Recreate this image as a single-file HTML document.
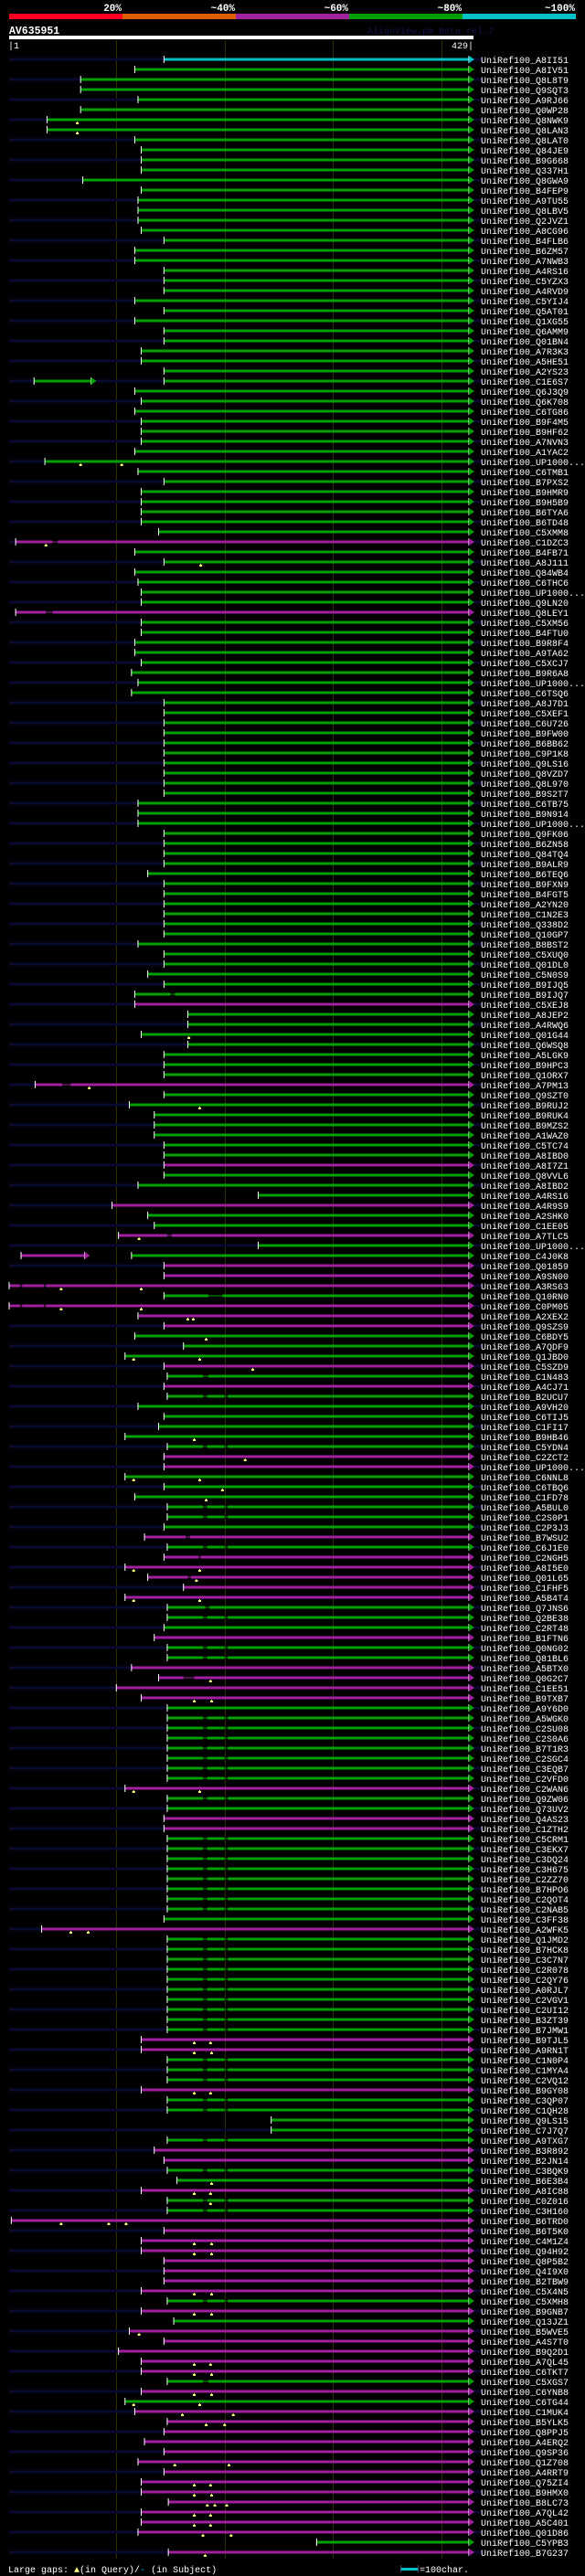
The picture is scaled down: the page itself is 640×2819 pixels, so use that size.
<!DOCTYPE html>
<html><head><meta charset="utf-8"><title>AV635951 alignment view</title>
<style>
html,body{margin:0;padding:0;background:#000;}
svg{display:block;}
text{font-family:"Liberation Mono",monospace;}
</style></head>
<body>
<svg id="chart" width="640" height="2819" viewBox="0 0 640 2819" xmlns="http://www.w3.org/2000/svg">
<rect x="0" y="0" width="640" height="2819" fill="#000"/>
<g>
<rect x="10" y="15" width="124" height="6" fill="#ff0022"/>
<rect x="134" y="15" width="124" height="6" fill="#e06000"/>
<rect x="258" y="15" width="124" height="6" fill="#a020a0"/>
<rect x="382" y="15" width="124" height="6" fill="#00a000"/>
<rect x="506" y="15" width="124" height="6" fill="#00c0c8"/>
<text x="133" y="12" fill="#fff" font-size="11" font-weight="bold" text-anchor="end">20%</text>
<text x="257" y="12" fill="#fff" font-size="11" font-weight="bold" text-anchor="end">~40%</text>
<text x="381" y="12" fill="#fff" font-size="11" font-weight="bold" text-anchor="end">~60%</text>
<text x="505" y="12" fill="#fff" font-size="11" font-weight="bold" text-anchor="end">~80%</text>
<text x="629" y="12" fill="#fff" font-size="11" font-weight="bold" text-anchor="end">~100%</text>
</g>
<text x="10" y="37" fill="#fff" font-size="11.5" font-weight="bold">AV635951</text>
<text x="402" y="37" fill="#14144a" font-size="10">AlignView.pm Beta rel.7</text>
<rect x="10" y="39" width="508" height="4" fill="#fff"/>
<text x="9" y="53" fill="#fff" font-size="10">|1</text>
<text x="518" y="53" fill="#fff" font-size="10" text-anchor="end">429|</text>
<g id="grid"></g>
<g id="rows"></g>
<text x="9" y="2815" fill="#fff" font-size="10">Large gaps: <tspan fill="#ffff80">▲</tspan>(in Query)/<tspan fill="#00c0c8">-</tspan> (in Subject)</text>
<rect x="439" y="2810" width="18" height="3" fill="#00c0c8"/>
<rect x="438" y="2807" width="1" height="8" fill="#446"/>
<rect x="457" y="2807" width="1" height="8" fill="#446"/>
<text x="459" y="2815" fill="#fff" font-size="10">=100char.</text>
</svg>
<script>
const labels = ["A8II51","A8IV51","Q8L8T9","Q9SQT3","A9RJ66","Q0WP28","Q8NWK9","Q8LAN3","Q8LAT0","Q84JE9","B9G668","Q337H1","Q8GWA9","B4FEP9","A9TU55","Q8LBV5","Q2JVZ1","A8CG96","B4FLB6","B6ZM57","A7NWB3","A4RS16","C5YZX3","A4RVD9","C5YIJ4","Q5AT01","Q1XG55","Q6AMM9","Q01BN4","A7R3K3","A5HE51","A2YS23","C1E6S7","Q6J3Q9","Q6K708","C6TG86","B9F4M5","B9HF62","A7NVN3","A1YAC2","UP1000...","C6TMB1","B7PXS2","B9HMR9","B9H5B9","B6TYA6","B6TD48","C5XMM8","C1DZC3","B4FB71","A8J111","Q84WB4","C6THC6","UP1000...","Q9LN20","Q8LEY1","C5XM56","B4FTU0","B9R8F4","A9TA62","C5XCJ7","B9R6A8","UP1000...","C6TSQ6","A8J7D1","C5XEF1","C6U726","B9FW00","B6BB62","C9P1K8","Q9LS16","Q8VZD7","Q8L970","B9S2T7","C6TB75","B9N914","UP1000...","Q9FK06","B6ZN58","Q84TQ4","B9ALR9","B6TEQ6","B9FXN9","B4FGT5","A2YN20","C1N2E3","Q338D2","Q10GP7","B8BST2","C5XUQ0","Q01DL0","C5N0S9","B9IJQ5","B9IJQ7","C5XEJ8","A8JEP2","A4RWQ6","Q01G44","Q6WSQ8","A5LGK9","B9HPC3","Q1ORX7","A7PM13","Q9SZT0","B9RUJ2","B9RUK4","B9MZS2","A1WAZ0","C5TC74","A8IBD0","A8I7Z1","Q8VVL6","A8IBD2","A4RS16","A4R9S9","A2SHK0","C1EE05","A7TLC5","UP1000...","C4J0K8","Q01859","A9SN00","A3RS63","Q10RN0","C0PM05","A2XEX2","Q9SZS9","C6BDY5","A7QDF9","Q1JBD0","C5SZD9","C1N483","A4CJ71","B2UCU7","A9VH20","C6TIJ5","C1FI17","B9HB46","C5YDN4","C2ZCT2","UP1000...","C6NNL8","C6TBQ6","C1FD78","A5BUL0","C2S0P1","C2P3J3","B7WSU2","C6J1E0","C2NGH5","A8I5E0","Q01L65","C1FHF5","A5B4T4","Q7JNS6","Q2BE38","C2RT48","B1FTN6","Q0NG02","Q81BL6","A5BTX0","Q0G2C7","C1EE51","B9TXB7","A9Y6D0","A5WGK0","C2SU08","C2S0A6","B7T1R3","C2SGC4","C3EQB7","C2VFD0","C2WAN6","Q9ZW06","Q73UV2","Q4AS23","C1ZTH2","C5CRM1","C3EKX7","C3DQ24","C3H675","C2ZZ70","B7HPO6","C2QOT4","C2NAB5","C3FF38","A2WFK5","Q1JMD2","B7HCK8","C3C7N7","C2R078","C2QY76","A0RJL7","C2VGV1","C2UI12","B3ZT39","B7JMW1","B9TJL5","A9RN1T","C1N0P4","C1MYA4","C2VQ12","B9GY08","C3QP07","C1QH28","Q9LS15","C7J7Q7","A9TXG7","B3R892","B2JN14","C3BQK9","B6E3B4","A8IC88","C0Z016","C3H160","B6TRD0","B6T5K0","C4M1Z4","Q94H92","Q8P5B2","Q4I9X0","B2TBW9","C5X4N5","C5XMH8","B9GNB7","Q13JZ1","B5WVE5","A4S7T0","B9Q2D1","A7QL45","C6TKT7","C5XGS7","C6YNB8","C6TG44","C1MUK4","B5YLK5","Q8PPJ5","A4ERQ2","Q9SP36","Q1Z708","A4RRT9","Q75ZI4","B9HMX0","B8LC73","A7QL42","A5C401","Q01D86","C5YPB3","B7G237"];
const starts = [144,117,67,67,120,67,36,36,117,123,123,123,69,123,120,120,120,123,144,117,117,144,144,144,117,144,117,144,144,
123,123,144,144,117,123,117,123,123,123,117,34,120,144,123,123,123,123,139,7,117,144,117,120,123,123,7,123,123,117,
117,123,114,120,114,144,144,144,144,144,144,144,144,144,144,120,120,120,144,144,144,144,
129,144,144,144,144,144,144,120,144,144,129,144,117,117,166,166,123,166,144,144,144,25,144,
112,135,135,135,144,144,144,144,120,231,96,129,135,102,231,114,144,144,1,144,1,120,
144,117,162,108,144,147,144,147,120,144,139,108,147,144,144,108,144,117,147,147,144,126,147,
144,108,129,162,108,147,147,144,135,147,147,114,139,100,123,147,147,147,147,147,147,147,147,
108,147,147,144,144,147,147,147,147,147,147,147,147,144,31,147,147,147,147,147,147,147,
147,147,147,123,123,147,147,147,123,147,147,243,243,147,135,144,147,156,123,147,147,3,144,
123,123,144,144,144,123,147,123,153,112,144,102,123,123,147,123,108,117,147,144,126,144,120,
144,123,123,148,123,123,120,285,148];
const endPos = 429;
const cyanRows = [1];
const magentaRows = [49,56,95,103,111,115,118,121,122,123,125,126,127,131,133,140,141,148,150,151,152,153,154,158,161,162,163,164,173,176,177,187,198,199,203,209,210,213,216,217,218,219,220,221,222,223,225,227,228,229,230,231,233,235,236,237,238,239,240,241,242,243,244,245,246,247,249];
const extraRows = [33,120];
const extraStarts = [24,12];
const extraEnds = [80,74];
const extraColors = ["g","m"];
const markerRows = [7,8,41,49,51,98,103,105,118,123,125,126,128,130,131,138,140,142,143,144,151,152,154,162,164,173,187,198,199,203,212,213,214,216,218,219,223,225,227,230,231,233,234,235,236,240,242,243,244,245,246,247,249];
const markerPos = [[64],[64],[67,105],[35],[178],[167],[75],[177],[121],[49,123],[49,123],[166,171],[183],[116,177],[226],[172],[219],[116,177],[198],[183],[116,177],[174],[116,177],[187],[172,188],[116,177],[58,74],[172,187],[172,188],[172,187],[188],[172,187],[187],[49,93,109],[172,188],[172,188],[172,188],[172,188],[121],[172,187],[172,188],[172,188],[116,177],[161,208],[183,200],[154,204],[172,187],[172,188],[184,191,202],[172,187],[172,187],[180,206],[182]];
const doubleGapRows = [134,139,145,146,149,156,159,160,166,167,168,169,170,171,172,174,178,179,180,181,182,183,184,185,188,189,190,191,192,193,194,195,196,197,200,201,202,204,205,208,211,214,215,224];
const doubleGaps = [[180,184],[200,203]];
const gapRows = [132,155,232,124,94,49,56,103,118,148,150,152,162,123,125];
const gapSpans = [[[180,185]],[[182,186]],[[180,185]],[[185,198]],[[150,154]],[[41,46]],[[35,41]],[[50,58]],[[147,151]],[[164,168]],[[176,178]],[[166,169]],[[162,172]],[[11,13],[33,35]],[[11,13],[33,35]]];
const gridTicks = [100,200,300,400];

const NS = "http://www.w3.org/2000/svg";
const X0 = 10, X1 = 517, ROW0 = 65, ROWH = 11;
function xOf(r){ return X0 + (r-1)*(X1-X0)/(endPos-1); }
function yOf(i){ return ROW0 + i*ROWH; }
const COLORS = {c:"#00c0c8", g:"#00a000", m:"#a020a0"};
function mk(tag, attrs, parent){
  const e = document.createElementNS(NS, tag);
  for (const k in attrs) e.setAttribute(k, attrs[k]);
  parent.appendChild(e);
  return e;
}
const grid = document.getElementById("grid");
const rowsG = document.getElementById("rows");
gridTicks.forEach(t=>{
  const l = mk("rect",{x:Math.round(xOf(t)),y:44,width:1,height:2756,fill:"#2e2e00"},grid);
  
  
});
function colorOf(n){ if (cyanRows.includes(n)) return "c"; if (magentaRows.includes(n)) return "m"; return "g"; }
function drawSeg(g, s, e, y, col){
  const x1 = xOf(s), x2 = xOf(e) - 4;
  const b = mk("rect",{x:x1,y:y-1.5,width:Math.max(0,x2-x1),height:3,fill:COLORS[col]},g);
  
  
  const t = mk("rect",{x:x1-0.5,y:y-4,width:1,height:8,fill:"#fff"},g);
  
  
  const et = mk("rect",{x:x2-0.5,y:y-4,width:1,height:8,fill:"#fff"},g);
  
  
  const a = mk("polygon",{points:`${x2},${y-4} ${x2+6},${y} ${x2},${y+4}`,fill:COLORS[col]},g);
  
  
}
function drawGap(g, s, e, y, col){
  const x1 = xOf(s), x2 = xOf(e);
  const r = mk("rect",{x:x1,y:y-1.5,width:x2-x1,height:3,fill:"#000"},g);
  
  
  const l = mk("rect",{x:x1,y:y-0.5,width:x2-x1,height:1,fill:COLORS[col]},g);
  
  
}
for (let i=0;i<labels.length;i++){
  const n = i+1, y = yOf(i), col = colorOf(n);
  const g = mk("g",{},rowsG);
  
  
  if (i%2===0){
    const st = mk("rect",{x:10,y:y-1.5,width:518,height:3,fill:"#0a0a30"},g);
    
    
  }
  const ei = extraRows.indexOf(n);
  if (ei>=0) drawSeg(g, extraStarts[ei], extraEnds[ei], y, extraColors[ei]);
  drawSeg(g, starts[i], endPos, y, col);
  if (doubleGapRows.includes(n)) doubleGaps.forEach(s=>drawGap(g, s[0], s[1], y, col));
  const gi = gapRows.indexOf(n);
  if (gi>=0) gapSpans[gi].forEach(s=>drawGap(g, s[0], s[1], y, col));
  const mi = markerRows.indexOf(n);
  if (mi>=0) markerPos[mi].forEach(p=>{
    const mx = xOf(p);
    const m1 = mk("rect",{x:mx-1.5,y:y+3,width:3,height:2,fill:"#ffff80"},g);
    
    
    const m2 = mk("rect",{x:mx-0.5,y:y+2,width:1,height:1,fill:"#ffff80"},g);
    
    
  });
  const tx = mk("text",{x:526,y:y+4,fill:"#fff","font-size":"10"},g);
  tx.textContent = "UniRef100_" + labels[i];
  
  
}
</script>
</body></html>
